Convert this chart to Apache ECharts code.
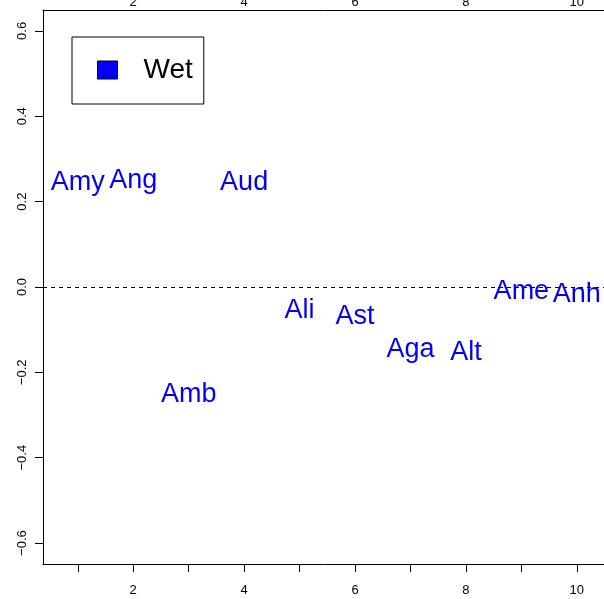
<!DOCTYPE html>
<html>
<head>
<meta charset="utf-8">
<script src="https://cdn.jsdelivr.net/npm/echarts@6/dist/echarts.min.js"></script>
<style>
html,body{margin:0;padding:0;background:#fff;}
#chart{width:604px;height:599px;}
</style>
</head>
<body>
<div id="chart"></div>
<script>
// Data
var seriesName = 'Wet';
var names = ['Amy','Ang','Amb','Aud','Ali','Ast','Aga','Alt','Ame','Anh'];
var xValues = [1,2,3,4,5,6,7,8,9,10];
var yValues = [0.25,0.255,-0.248,0.249,-0.051,-0.064,-0.141,-0.149,-0.007,-0.013];
var xTicks = [1,2,3,4,5,6,7,8,9,10];
var xTickLabels = [2,4,6,8,10];
var yTickLabels = [-0.6,-0.4,-0.2,0.0,0.2,0.4,0.6];

var FONT = 'Liberation Sans';
var chart = echarts.init(document.getElementById('chart'), null, {renderer:'canvas'});

var points = names.map(function(n,i){ return {name:n, value:[xValues[i], yValues[i]]}; });

chart.setOption({
  animation:false,
  backgroundColor:'#fff',
  grid:{left:43, top:10, right:0, bottom:35, containLabel:false, outerBoundsMode:'none'},
  legend:{
    left:72, top:37,
    padding:[19,11,20,25],
    borderColor:'#000', borderWidth:1, borderRadius:0,
    backgroundColor:'#fff',
    itemWidth:20, itemHeight:18,
    data:[{name:seriesName, icon:'rect', itemStyle:{color:'#0000ff', opacity:1, borderColor:'#000', borderWidth:1}}],
    textStyle:{fontSize:28, color:'#000', fontFamily:FONT, padding:[0,0,0,21]},
    selectedMode:false
  },
  xAxis:[{
    type:'value', position:'bottom', min:0.373, max:10.49,
    axisLine:{show:true, onZero:false, lineStyle:{color:'#000', width:1}},
    axisTick:{show:true, length:8, inside:false, lineStyle:{color:'#000'}, customValues:xTicks},
    axisLabel:{show:true, margin:20, fontSize:13, color:'#000', fontFamily:FONT, customValues:xTickLabels},
    splitLine:{show:false}
  },{
    type:'value', position:'top', min:0.373, max:10.49,
    axisLine:{show:true, onZero:false, lineStyle:{color:'#000', width:1}},
    axisTick:{show:false},
    axisLabel:{show:true, margin:1, fontSize:13, color:'#000', fontFamily:FONT, customValues:xTickLabels},
    splitLine:{show:false}
  }],
  yAxis:{
    type:'value', min:-0.649, max:0.649,
    axisLine:{show:true, onZero:false, lineStyle:{color:'#000', width:1}},
    axisTick:{show:true, length:8, lineStyle:{color:'#000'}, customValues:yTickLabels},
    axisLabel:{show:true, rotate:90, margin:14, fontSize:13, color:'#000', fontFamily:FONT,
      customValues:yTickLabels,
      formatter:function(v){ return v.toFixed(1).replace('-', '\u2212'); }},
    splitLine:{show:false}
  },
  series:[{
    name:seriesName,
    type:'scatter',
    xAxisIndex:0, yAxisIndex:0,
    symbol:'rect', symbolSize:1,
    itemStyle:{color:'rgba(0,0,255,0)', opacity:1},
    data:points,
    label:{show:true, position:'inside', offset:[0,2], formatter:'{b}', fontSize:27, color:'#0000ff',
      opacity:1, textBorderWidth:0, textBorderColor:'transparent', fontFamily:FONT},
    emphasis:{disabled:true},
    markLine:{
      silent:true, symbol:['none','none'],
      label:{show:false},
      lineStyle:{color:'#000', type:[4,4], width:1},
      data:[{yAxis:0}]
    },
    z:3
  }]
});
</script>
</body>
</html>
